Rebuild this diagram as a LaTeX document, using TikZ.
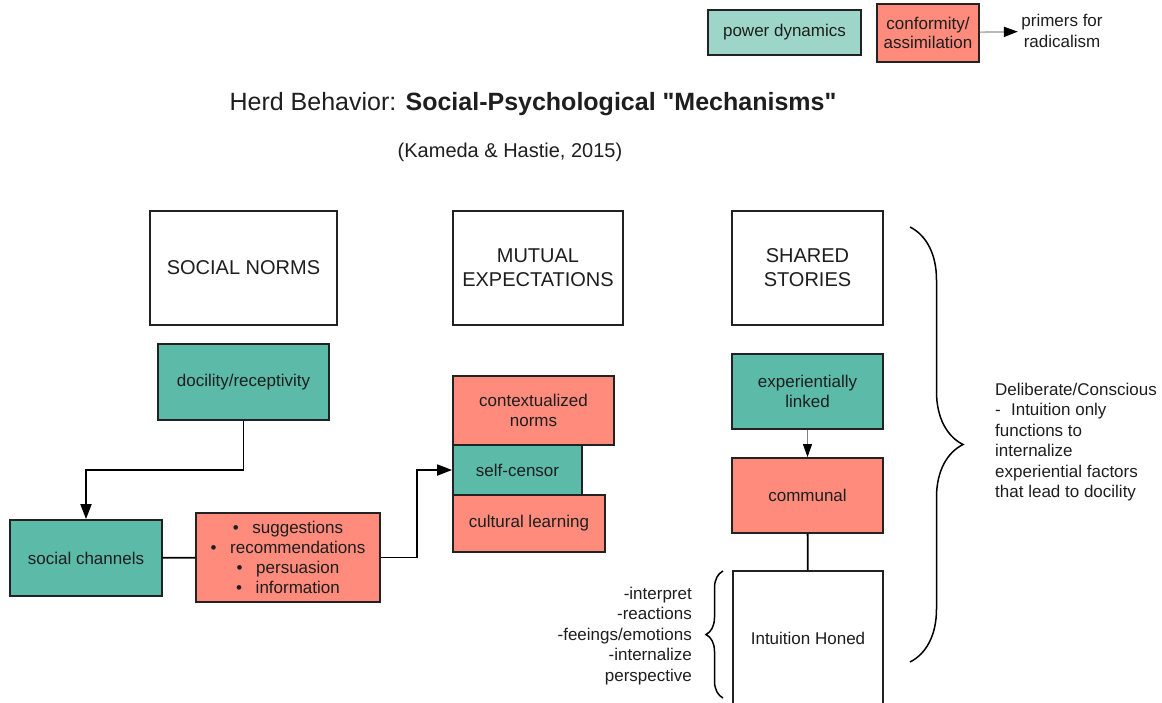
\documentclass[tikz,border=0pt]{standalone}
\usepackage{fontspec}
\setmainfont{Liberation Sans}
\newfontfamily\plainsans{Liberation Sans}
\usetikzlibrary{positioning,arrows.meta,decorations.pathreplacing}
\definecolor{tealfill}{HTML}{5BBAA8}
\definecolor{legteal}{HTML}{9DD6C8}
\definecolor{salmon}{HTML}{FE8B7B}
\definecolor{edge}{HTML}{222222}
\definecolor{ink}{HTML}{1E1E1E}

\begin{document}
\begin{tikzpicture}[
		x=1pt,y=-1pt,
		every node/.style={font=\fontsize{17}{20.5}\selectfont,text=ink},
		mynode/.style={draw=edge,line width=1.8pt,inner sep=2pt,align=center},
		headnode/.style={mynode,fill=white,font=\fontsize{20}{24}\selectfont},
		greennode/.style={mynode,fill=tealfill},
		rednode/.style={mynode,fill=salmon},
		conn/.style={line width=1.8pt,draw=black},
		arrow/.style={conn,-{Triangle[length=15pt,width=11pt]}}
		]
		\clip (0,0) rectangle (1162,702);
		% legend
		\node[mynode,fill=legteal,minimum width=153pt,minimum height=45pt] (power) at (784.5,32.5) {power dynamics};
		\node[rednode,minimum width=102pt,minimum height=58pt] (conform) at (928,33) {conformity/\\[-1pt]assimilation};
		\node[align=center] (primers) at (1062,31) {primers for\\radicalism};
		\draw[line width=1.8pt,draw=gray!55,-{Triangle[length=14pt,width=10pt,color=black]}] (conform) -- (primers);
		% title
		\node[font=\plainsans\fontsize{25}{30}\selectfont] (title) at (533,104) {Herd Behavior: \textbf{Social-Psychological "Mechanisms"}};
		\node[font=\fontsize{20}{24}\selectfont] (source) at (510,152) {(Kameda \& Hastie, 2015)};
		% headings
		\node[headnode,minimum width=187pt,minimum height=114pt] (norms) at (243.5,268) {SOCIAL NORMS};
		\node[headnode,minimum width=170pt,minimum height=114pt] (mutual) at (538,268) {MUTUAL\\EXPECTATIONS};
		\node[headnode,minimum width=151pt,minimum height=114pt] (stories) at (807.5,268) {SHARED\\STORIES};
		% social norms
		\node[greennode,minimum width=171pt,minimum height=76pt] (docility) at (243.5,382) {docility/receptivity};
		\node[greennode,minimum width=152pt,minimum height=76pt] (channels) at (86,558) {social channels};
		\node[rednode,minimum width=184pt,minimum height=89pt,font=\fontsize{17}{20}\selectfont] (channeltypes) at (288,557.5)
		{\textbullet\hspace{0.8em}suggestions\\
			\textbullet\hspace{0.8em}recommendations\\
			\textbullet\hspace{0.8em}persuasion\\
			\textbullet\hspace{0.8em}information};
		% mutual expectations
		\node[rednode,minimum width=161pt,minimum height=69pt] (context) at (533.5,410.5) {contextualized\\norms};
		\node[greennode,minimum width=129pt,minimum height=50pt] (censor) at (517.5,470) {self-censor};
		\node[rednode,minimum width=152pt,minimum height=57pt] (cultural) at (529,523.5) {cultural learning};
		% shared stories
		\node[greennode,minimum width=151pt,minimum height=75pt] (linked) at (807.5,391.5) {experientially\\linked};
		\node[rednode,minimum width=151pt,minimum height=75pt] (communal) at (807.5,495.5) {communal};
		\node[mynode,fill=white,minimum width=150pt,minimum height=135pt] (honed) at (808,638.5) {Intuition Honed};
		% connectors
		\draw[arrow] (docility.south) -- ++(0,49) -| (channels.north);
		\draw[conn] (channels) -- (channeltypes);
		\draw[arrow] (channeltypes.east) -- ++(36,0) |- (censor.west);
		\draw[line width=0.8pt,draw=gray,-{Triangle[length=13pt,width=9pt,color=black]}] (linked) -- (communal);
		\draw[conn] (communal) -- (honed);
		% braces
		\node[align=right,anchor=east,inner sep=0pt] (feelings) at (692,636)
		{-interpret\\-reactions\\-feeings/emotions\\-internalize\\perspective};
		\draw[line width=1.5pt,decorate,decoration={brace,amplitude=17pt}] (723,698) -- (723,571);
		\draw[line width=1.5pt,decorate,decoration={brace,amplitude=53pt}] (910,227) -- (910,662);
		\node[align=left,anchor=west,inner sep=0pt] (deliberate) at (995,442)
		{Deliberate/Conscious\\
			-\hspace{0.6em}Intuition only\\
			functions to\\
			internalize\\
			experiential factors\\
			that lead to docility};
	\end{tikzpicture}
\end{document}
